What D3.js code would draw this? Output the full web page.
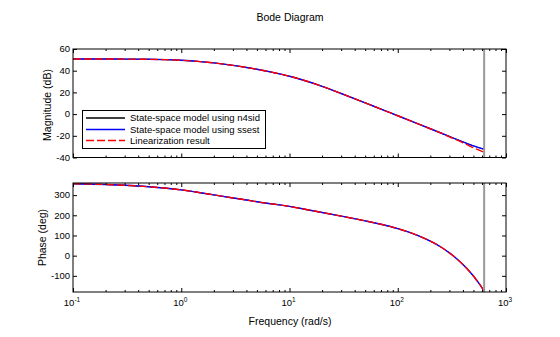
<!DOCTYPE html>
<html>
<head>
<meta charset="utf-8">
<script src="https://cdn.jsdelivr.net/npm/d3@7"></script>
<style>
  html, body { margin: 0; padding: 0; background: #fff; }
  svg { display: block; font-family: "Liberation Sans", Arial, sans-serif; }
</style>
</head>
<body>
<svg id="chart" width="560" height="337"></svg>
<script>
// ---- data ----
const freq = [0.1, 0.2, 0.3, 0.5, 0.7, 1, 1.5, 2, 3, 4, 5, 7, 10, 15, 20, 30, 50, 70, 100, 150, 200, 250, 300, 350, 400, 450, 500, 550, 600, 628];

const magN4sid = [50.8, 50.8, 50.7, 50.5, 50.2, 49.6, 48.4, 47.2, 44.9, 43.0, 41.3, 38.4, 34.9, 29.8, 25.6, 19.0, 10.4, 4.6, -1.5, -8.5, -13.5, -17.4, -20.6, -23.3, -25.6, -27.6, -29.3, -30.7, -31.8, -32.4];
const magSsest  = [50.8, 50.8, 50.7, 50.5, 50.2, 49.6, 48.4, 47.2, 44.9, 43.0, 41.3, 38.4, 34.9, 29.8, 25.6, 19.0, 10.4, 4.6, -1.5, -8.5, -13.5, -17.4, -20.6, -23.3, -25.6, -27.6, -29.3, -30.7, -31.8, -32.4];
const magLinear = [50.8, 50.8, 50.7, 50.5, 50.2, 49.6, 48.4, 47.2, 44.9, 43.0, 41.3, 38.4, 34.9, 29.8, 25.6, 19.0, 10.4, 4.6, -1.5, -8.5, -13.5, -17.4, -20.9, -23.8, -26.4, -28.8, -31.0, -32.8, -34.3, -35.0];

const phN4sid  = [356.5, 352.5, 348.5, 341.5, 335, 326, 312, 301, 286, 276, 267, 256, 244, 226.5, 214, 196, 172.5, 155.5, 134, 102, 72, 43, 14, -15, -43.5, -72, -101, -130, -159, -178];
const phSsest  = [356.5, 352.5, 348.5, 341.5, 335, 326, 312, 301, 286, 276, 267, 256, 244, 226.5, 214, 196, 172.5, 155.5, 134, 102, 72, 43, 14, -15, -43.5, -72, -101, -130, -159, -178];
const phLinear = [356.5, 352.5, 348.5, 341.5, 335, 326, 312, 301, 286, 276, 267, 256, 244, 226.5, 214, 196, 172.5, 155.5, 134, 102, 72, 43, 14, -15, -43.5, -72, -101, -130, -159, -178];

const nyquist = 628.3;

const xMajor = [0.1, 1, 10, 100, 1000];
const xMajorExp = ["-1", "0", "1", "2", "3"];
const magTicks = [-40, -20, 0, 20, 40, 60];
const phTicks = [-100, 0, 100, 200, 300];

const seriesNames = ["State-space model using n4sid", "State-space model using ssest", "Linearization result"];
const seriesColors = ["#000000", "#0000ff", "#ff0000"];
const seriesWidth = [0.8, 1.4, 1.4];
const seriesDash = [null, null, "8,3"];

// ---- layout ----
const svg = d3.select("#chart");
const X0 = 73, X1 = 506;
const magTop = 49, magBot = 157.5;
const phTop = 183, phBot = 292;

const x = d3.scaleLog().domain([0.1, 1000]).range([X0, X1]);
const yMag = d3.scaleLinear().domain([-40, 60]).range([magBot, magTop]);
const yPh = d3.scaleLinear().domain([-180, 360]).range([phBot, phTop]);

const xMinor = [];
for (let e = -1; e < 3; e++) for (let k = 2; k <= 9; k++) xMinor.push(k * Math.pow(10, e));

function drawPanel(y, top, bot, yTicks, series) {
  const g = svg.append("g");
  g.append("rect").attr("x", X0).attr("y", top).attr("width", X1 - X0).attr("height", bot - top).attr("fill", "#fff");

  const clipId = "clip" + Math.round(top);
  svg.append("clipPath").attr("id", clipId).append("rect")
    .attr("x", X0).attr("y", top).attr("width", X1 - X0).attr("height", bot - top);

  const lg = g.append("g").attr("clip-path", `url(#${clipId})`);
  series.forEach((vals, i) => {
    const line = d3.line().x((d, j) => x(freq[j])).y(d => y(d)).curve(d3.curveMonotoneX);
    const p = lg.append("path").datum(vals).attr("d", line)
      .attr("fill", "none").attr("stroke", seriesColors[i]).attr("stroke-width", seriesWidth[i]);
    if (seriesDash[i]) p.attr("stroke-dasharray", seriesDash[i]);
  });

  g.append("line").attr("x1", x(nyquist)).attr("x2", x(nyquist)).attr("y1", top).attr("y2", bot)
    .attr("stroke", "#999999").attr("stroke-width", 2);

  const mk = (axis, tr) => {
    const a = g.append("g").attr("transform", tr).call(axis);
    a.select(".domain").remove();
    a.selectAll("text").remove();
    a.selectAll("line").attr("stroke", "#000");
  };
  mk(d3.axisBottom(x).tickValues(xMajor).tickSizeInner(-4).tickSizeOuter(0), `translate(0,${bot})`);
  mk(d3.axisBottom(x).tickValues(xMinor).tickSizeInner(-2).tickSizeOuter(0), `translate(0,${bot})`);
  mk(d3.axisTop(x).tickValues(xMajor).tickSizeInner(-4).tickSizeOuter(0), `translate(0,${top})`);
  mk(d3.axisTop(x).tickValues(xMinor).tickSizeInner(-2).tickSizeOuter(0), `translate(0,${top})`);
  mk(d3.axisLeft(y).tickValues(yTicks).tickSizeInner(-4).tickSizeOuter(0), `translate(${X0},0)`);
  mk(d3.axisRight(y).tickValues(yTicks).tickSizeInner(-4).tickSizeOuter(0), `translate(${X1},0)`);

  g.append("rect").attr("x", X0).attr("y", top).attr("width", X1 - X0).attr("height", bot - top)
    .attr("fill", "none").attr("stroke", "#000").attr("stroke-width", 1);

  g.selectAll("text.yt").data(yTicks).enter().append("text")
    .attr("x", X0 - 3).attr("y", d => y(d)).attr("dy", "0.35em")
    .attr("text-anchor", "end").attr("font-size", "9.5px").text(d => d);
  return g;
}

drawPanel(yMag, magTop, magBot, magTicks, [magN4sid, magSsest, magLinear]);
drawPanel(yPh, phTop, phBot, phTicks, [phN4sid, phSsest, phLinear]);

xMajor.forEach((v, i) => {
  const t = svg.append("text").attr("x", x(v) - 1).attr("y", 306)
    .attr("text-anchor", "middle").attr("font-size", "9.5px");
  t.append("tspan").text("10");
  t.append("tspan").attr("dy", -4.5).attr("font-size", "6.5px").text(xMajorExp[i]);
});

svg.append("text").attr("x", 290).attr("y", 20.5).attr("text-anchor", "middle")
  .attr("font-size", "10.5px").text("Bode Diagram");
svg.append("text").attr("x", 290).attr("y", 324.5).attr("text-anchor", "middle")
  .attr("font-size", "10.5px").text("Frequency (rad/s)");
svg.append("text").attr("transform", "translate(50.5,105) rotate(-90)").attr("text-anchor", "middle")
  .attr("font-size", "10.5px").text("Magnitude (dB)");
svg.append("text").attr("transform", "translate(46,237.5) rotate(-90)").attr("text-anchor", "middle")
  .attr("font-size", "10.5px").text("Phase (deg)");

const lgX = 82.5, lgY = 110.5, lgW = 183, lgH = 38;
const leg = svg.append("g");
leg.append("rect").attr("x", lgX).attr("y", lgY).attr("width", lgW).attr("height", lgH)
  .attr("fill", "#fff").attr("stroke", "#000").attr("stroke-width", 1);
const rowY = [118, 129.5, 140.5];
seriesNames.forEach((name, i) => {
  const l = leg.append("line").attr("x1", 86).attr("x2", 125).attr("y1", rowY[i]).attr("y2", rowY[i])
    .attr("stroke", seriesColors[i]).attr("stroke-width", 1.3);
  if (seriesDash[i]) l.attr("stroke-dasharray", seriesDash[i]);
  leg.append("text").attr("x", 130).attr("y", rowY[i]).attr("dy", "0.35em")
    .attr("font-size", "9.5px").text(name);
});
</script>
</body>
</html>
